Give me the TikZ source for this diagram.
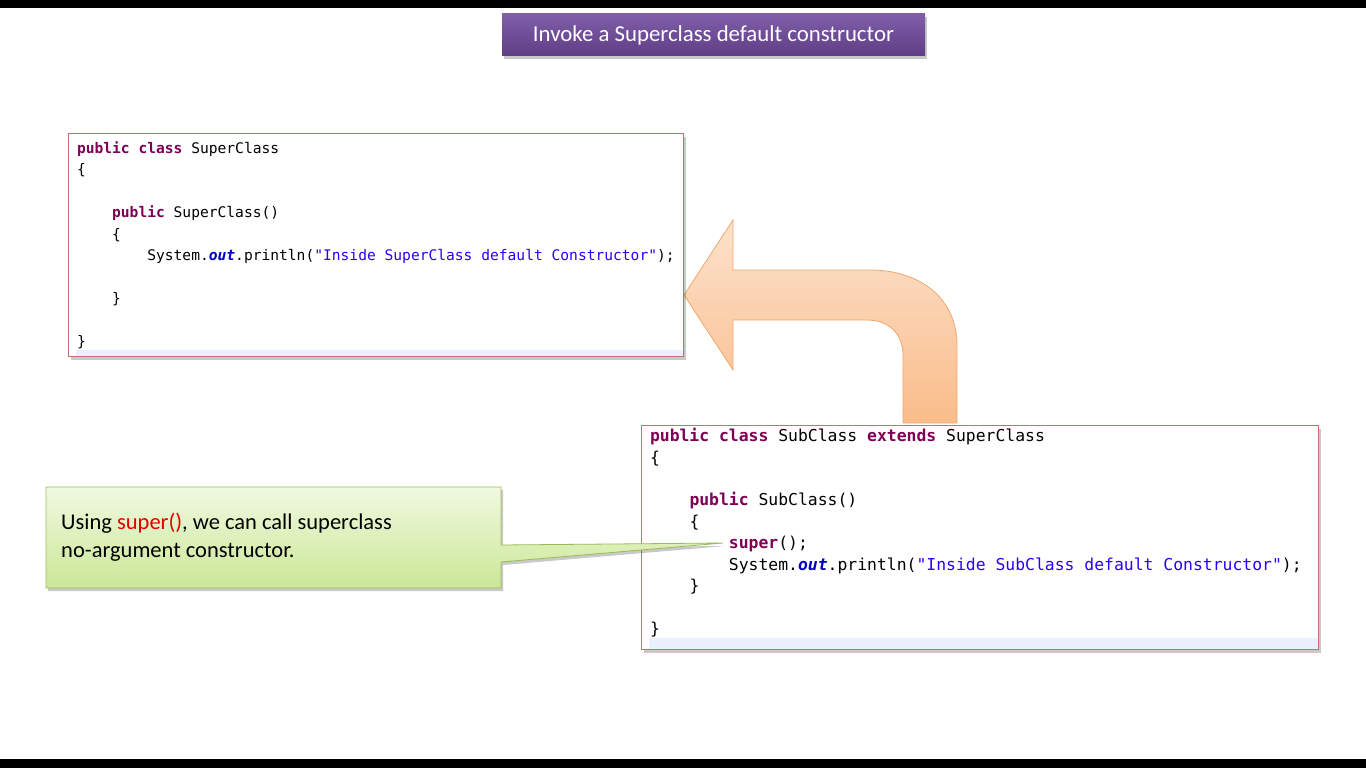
\documentclass[tikz,border=0pt]{standalone}
\usepackage{fontspec}
\setmainfont{Carlito}
\newfontfamily\codefont[WordSpace={1,0,0}]{DejaVu Sans Mono}
\usetikzlibrary{calc, shadows}
\definecolor{ttltop}{RGB}{128,94,168}
\definecolor{ttlbot}{RGB}{95,62,134}
\definecolor{boxline}{RGB}{196,112,112}
\definecolor{curline}{RGB}{232,241,253}
\definecolor{kw}{RGB}{127,0,85}
\definecolor{jstr}{RGB}{42,0,255}
\definecolor{jfld}{RGB}{0,0,192}
\definecolor{notetop}{RGB}{241,249,226}
\definecolor{notebot}{RGB}{203,231,150}
\definecolor{noteline}{RGB}{155,187,89}
\definecolor{arrtop}{RGB}{252,226,204}
\definecolor{arrbot}{RGB}{250,188,138}
\definecolor{arrline}{RGB}{240,168,110}
\newcommand{\jk}[1]{\textcolor{kw}{\bfseries #1}}
\newcommand{\js}[1]{\textcolor{jstr}{#1}}
\newcommand{\jout}{\textcolor{jfld}{\bfseries\itshape out}}
\newcommand{\ind}{\phantom{0000}}
\newcommand{\natsp}{\spaceskip=0pt\xspaceskip=0pt}
\tikzset{
  shd/.style={drop shadow={shadow xshift=2pt, shadow yshift=-3pt, opacity=.3, fill=black!70}},
  % titre en haut
  ttl/.style={rectangle, top color=ttltop, bottom color=ttlbot, draw=none, shd,
              minimum width=423pt, minimum height=42pt, text=white,
              font=\fontsize{22.8}{26}\selectfont},
  % bloc de code (editeur)
  codebox/.style={rectangle, draw=boxline, line width=1pt, fill=white, shd, anchor=north west,
                  align=left, inner xsep=8pt, inner ysep=0pt,
                  path picture={\fill[curline] ([xshift=7pt]path picture bounding box.south west)
                                rectangle ([yshift=#1]path picture bounding box.south east);}},
  note/.style={anchor=north west, align=left, inner xsep=15pt, text width=425pt,
               minimum width=455pt, minimum height=101pt,
               font=\fontsize{22.5}{28}\selectfont},
  noteshape/.style={top color=notetop, bottom color=notebot, draw=noteline, line width=.8pt, shd},
  uturn/.style={top color=arrtop, bottom color=arrbot, draw=arrline, line width=.8pt}
}
\begin{document}
\begin{tikzpicture}[x=1pt, y=-1pt]
  \useasboundingbox (0,0) rectangle (1366,768);
  \fill[black] (0,0) rectangle (1366,8);
  \fill[black] (0,759) rectangle (1366,768);

  \node[ttl] (title) at (713.5,35) {Invoke a Superclass default constructor};

  % fleche en U (sous-classe -> super-classe)
  \draw[uturn] (684,295) -- (733,220) -- (733,270) -- (870,270)
    .. controls (922,270) and (957,300) .. (957,345) -- (957,423) -- (903,423) -- (903,355)
    .. controls (903,334) and (889,320) .. (867,320) -- (733,320) -- (733,370) -- cycle;

  \node[codebox=7pt, minimum width=615pt, minimum height=223pt, text width=598pt,
        font=\codefont\fontsize{14.6}{21.4}\selectfont] (sup) at (68,133) {\natsp
    \jk{public class} SuperClass\\
    \{\\
    \mbox{}\\
    \ind\jk{public} SuperClass()\\
    \ind\{\\
    \ind\ind System.\jout.println(\js{"Inside SuperClass default Constructor"});\\
    \mbox{}\\
    \ind\}\\
    \mbox{}\\
    \}};

  \node[codebox=12pt, minimum width=677pt, minimum height=224pt, text width=660pt,
        font=\codefont\fontsize{16.4}{21.4}\selectfont] (sub) at (641,425) {\natsp
    \jk{public class} SubClass \jk{extends} SuperClass\\
    \{\\
    \mbox{}\\
    \ind\jk{public} SubClass()\\
    \ind\{\\
    \ind\ind\jk{super}();\\
    \ind\ind System.\jout.println(\js{"Inside SubClass default Constructor"});\\
    \ind\}\\
    \mbox{}\\
    \}\\[-9pt]
    \mbox{}};

  % bulle de commentaire
  \coordinate (hnw) at (46,487);
  \coordinate (hse) at (501,588);
  \coordinate (supcall) at (723,543);
  \path[noteshape] (hnw) -- (hnw -| hse) -- ($(hnw -| hse)+(0,58)$) -- (supcall)
    -- ($(hnw -| hse)+(0,75)$) -- (hse) -- (hse -| hnw) -- cycle;
  \node[note] (hint) at (hnw) {\natsp Using \textcolor{red!90!black}{super()}, we can call superclass\\no-argument constructor.};
\end{tikzpicture}
\end{document}
